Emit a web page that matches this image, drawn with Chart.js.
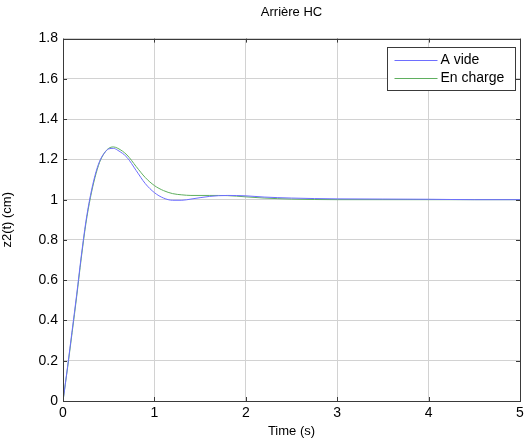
<!DOCTYPE html>
<html>
<head>
<meta charset="utf-8">
<script src="https://cdn.jsdelivr.net/npm/chart.js@4/dist/chart.umd.min.js"></script>
<style>
  html, body { margin: 0; padding: 0; background: #fff; }
  #wrap { width: 524px; height: 439px; }
</style>
</head>
<body>
<div id="wrap"><canvas id="c" width="524" height="439"></canvas></div>
<script>
// ---- Data ----
const time = [0, 0.05, 0.1, 0.15, 0.2, 0.25, 0.3, 0.35, 0.4, 0.45, 0.5, 0.55, 0.6, 0.7, 0.8, 0.9, 1.0, 1.1, 1.2, 1.3, 1.4, 1.6, 1.8, 2.0, 2.2, 2.5, 3.0, 3.5, 4.0, 4.5, 5.0];
const aVide = [0, 0.17, 0.35, 0.53, 0.72, 0.89, 1.02, 1.12, 1.19, 1.23, 1.252, 1.255, 1.245, 1.21, 1.145, 1.08, 1.035, 1.008, 0.997, 0.997, 1.003, 1.016, 1.021, 1.019, 1.013, 1.008, 1.004, 1.003, 1.002, 1.0, 1.0];
const enCharge = [0, 0.165, 0.34, 0.52, 0.71, 0.88, 1.01, 1.11, 1.185, 1.23, 1.255, 1.262, 1.255, 1.222, 1.165, 1.11, 1.07, 1.045, 1.03, 1.024, 1.021, 1.021, 1.02, 1.014, 1.008, 1.003, 1.0, 1.0, 1.0, 1.0, 1.0];
const seriesLabels = ['A vide', 'En charge'];
const xTicks = [0, 1, 2, 3, 4, 5];
const yTicks = [0, 0.2, 0.4, 0.6, 0.8, 1, 1.2, 1.4, 1.6, 1.8];
const chartTitle = 'Arrière HC';
const xTitle = 'Time (s)';
const yTitle = 'z2(t) (cm)';

const FONT = '"Liberation Sans", Arial, Helvetica, sans-serif';

const toPts = (ys) => time.map((t, i) => ({ x: t, y: ys[i] }));

// Axis box + inner ticks (MATLAB style)
const boxPlugin = {
  id: 'box',
  afterDatasetsDraw(chart) {
    const { ctx, chartArea: a, scales } = chart;
    ctx.save();
    ctx.strokeStyle = '#3a3a3a';
    ctx.lineWidth = 1;
    ctx.beginPath();
    xTicks.forEach(v => {
      const x = Math.round(scales.x.getPixelForValue(v)) + 0.5;
      ctx.moveTo(x, a.bottom); ctx.lineTo(x, a.bottom - 4);
      ctx.moveTo(x, a.top); ctx.lineTo(x, a.top + 4);
    });
    yTicks.forEach(v => {
      const y = Math.round(scales.y.getPixelForValue(v)) + 0.5;
      ctx.moveTo(a.left, y); ctx.lineTo(a.left + 4, y);
      ctx.moveTo(a.right, y); ctx.lineTo(a.right - 4, y);
    });
    ctx.stroke();
    ctx.strokeRect(Math.round(a.left) + 0.5, Math.round(a.top) + 0.5,
                   Math.round(a.right - a.left), Math.round(a.bottom - a.top));
    ctx.restore();
  }
};

// MATLAB-style legend box in the top-right of the axes
const legendPlugin = {
  id: 'mlegend',
  afterDraw(chart) {
    const { ctx, chartArea: a } = chart;
    const w = 128, h = 43;
    const x0 = Math.round(a.right) - 5 - w + 0.5;
    const y0 = Math.round(a.top) + 8 + 0.5;
    ctx.save();
    ctx.fillStyle = '#fff';
    ctx.fillRect(x0, y0, w, h);
    ctx.strokeStyle = '#3a3a3a';
    ctx.lineWidth = 1;
    ctx.strokeRect(x0, y0, w, h);
    ctx.font = '14px ' + FONT;
    ctx.textBaseline = 'middle';
    ctx.textAlign = 'left';
    chart.data.datasets.forEach((ds, i) => {
      const y = Math.round(y0 + 12 + i * 18) + 0.5;
      ctx.strokeStyle = ds.borderColor;
      ctx.beginPath();
      ctx.moveTo(x0 + 7, y); ctx.lineTo(x0 + 50, y);
      ctx.stroke();
      ctx.fillStyle = '#000';
      ctx.fillText(ds.label, x0 + 53, y);
    });
    ctx.restore();
  }
};

new Chart(document.getElementById('c'), {
  type: 'line',
  data: {
    datasets: [
      { label: seriesLabels[0], data: toPts(aVide), borderColor: 'rgb(110,110,255)', borderWidth: 1, pointRadius: 0, tension: 0, cubicInterpolationMode: 'monotone', fill: false },
      { label: seriesLabels[1], data: toPts(enCharge), borderColor: 'rgb(95,175,95)', borderWidth: 1, pointRadius: 0, tension: 0, cubicInterpolationMode: 'monotone', fill: false }
    ]
  },
  options: {
    responsive: false,
    animation: false,
    devicePixelRatio: 1,
    layout: { padding: { left: 0, right: 4, top: 0, bottom: 0 } },
    plugins: {
      legend: { display: false },
      tooltip: { enabled: false },
      title: {
        display: true,
        text: chartTitle,
        fullSize: false,
        color: '#000',
        font: { family: FONT, size: 13, weight: 'normal' },
        padding: { top: 5, bottom: 18 }
      }
    },
    scales: {
      x: {
        type: 'linear',
        min: 0, max: 5,
        afterBuildTicks(scale) { scale.ticks = xTicks.map(v => ({ value: v })); },
        afterFit(scale) { scale.height = 38; scale.paddingRight = 0; scale.paddingLeft = 0; },
        grid: { color: '#d2d2d2', lineWidth: 1, drawTicks: false },
        border: { display: false },
        ticks: { color: '#000', padding: 4, maxRotation: 0, font: { family: FONT, size: 14 }, callback: v => String(v) },
        title: { display: true, text: xTitle, color: '#000', padding: { top: 0, bottom: 0 }, font: { family: FONT, size: 13 } }
      },
      y: {
        type: 'linear',
        min: 0, max: 1.8,
        afterBuildTicks(scale) { scale.ticks = yTicks.map(v => ({ value: v })); },
        afterFit(scale) { scale.width = 63; },
        grid: { color: '#d2d2d2', lineWidth: 1, drawTicks: false },
        border: { display: false },
        ticks: { color: '#000', padding: 5, font: { family: FONT, size: 14 }, callback: v => String(Math.round(v * 10) / 10) },
        title: { display: true, text: yTitle, color: '#000', padding: { top: 0, bottom: 2 }, font: { family: FONT, size: 13 } }
      }
    }
  },
  plugins: [boxPlugin, legendPlugin]
});
</script>
</body>
</html>
